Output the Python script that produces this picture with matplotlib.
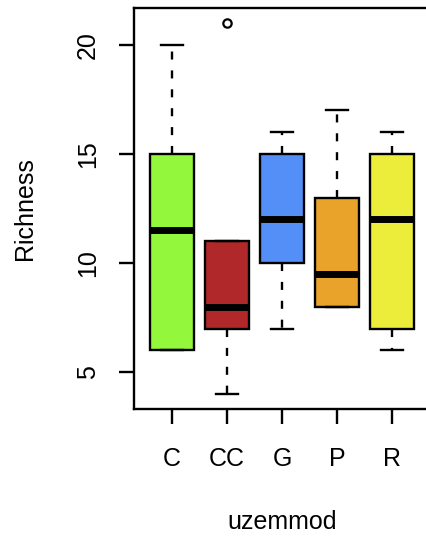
import matplotlib
matplotlib.use('Agg')
import matplotlib.pyplot as plt

plt.rcParams['font.family'] = ['Liberation Sans', 'DejaVu Sans']

groups = ['C', 'CC', 'G', 'P', 'R']
whislo = [6, 4, 7, 8, 6]
q1 = [6, 7, 10, 8, 7]
med = [11.5, 8, 12, 9.5, 12]
q3 = [15, 11, 15, 13, 15]
whishi = [20, 11, 16, 17, 16]
outliers = [[], [21], [], [], []]
colors = ['#93f73c', '#b1282b', '#548ff8', '#e9a22a', '#ecec3a']

stats = []
for i in range(len(groups)):
    stats.append({'label': groups[i], 'whislo': whislo[i], 'q1': q1[i], 'med': med[i],
                  'q3': q3[i], 'whishi': whishi[i], 'fliers': outliers[i]})

fig = plt.figure(figsize=(4.26, 5.37), dpi=100)
ax = fig.add_axes([133.5/426, 1 - 409/537, 297/426, 401/537])

lw = 1.7
bp = ax.bxp(stats, positions=range(1, 6), widths=0.8, patch_artist=True,
            capwidths=0.4,
            boxprops=dict(linewidth=lw, edgecolor='black'),
            medianprops=dict(color='black', linewidth=5, solid_capstyle='butt'),
            whiskerprops=dict(color='black', linewidth=lw, linestyle=(0, (3.4, 4.6))),
            capprops=dict(color='black', linewidth=lw),
            flierprops=dict(marker='o', markerfacecolor='none', markeredgecolor='black',
                            markersize=6, markeredgewidth=1.6))
for patch, c in zip(bp['boxes'], colors):
    patch.set_facecolor(c)

ax.set_xlim(0.3, 5.7)
ax.set_ylim(3.32, 21.68)
ax.set_yticks([5, 10, 15, 20])
ax.set_xticks(range(1, 6))
ax.set_xticklabels(groups)
ax.tick_params(axis='both', length=11, width=lw, labelsize=18, direction='out')
ax.tick_params(axis='x', pad=16.5)
ax.tick_params(axis='y', pad=13)
for lab in ax.get_yticklabels():
    lab.set_rotation(90)
    lab.set_va('center')
for s in ax.spines.values():
    s.set_linewidth(lw)

ax.set_xlabel('uzemmod', fontsize=18, labelpad=28)
ax.set_ylabel('Richness', fontsize=18, labelpad=28)

fig.savefig('out.png', dpi=100)
